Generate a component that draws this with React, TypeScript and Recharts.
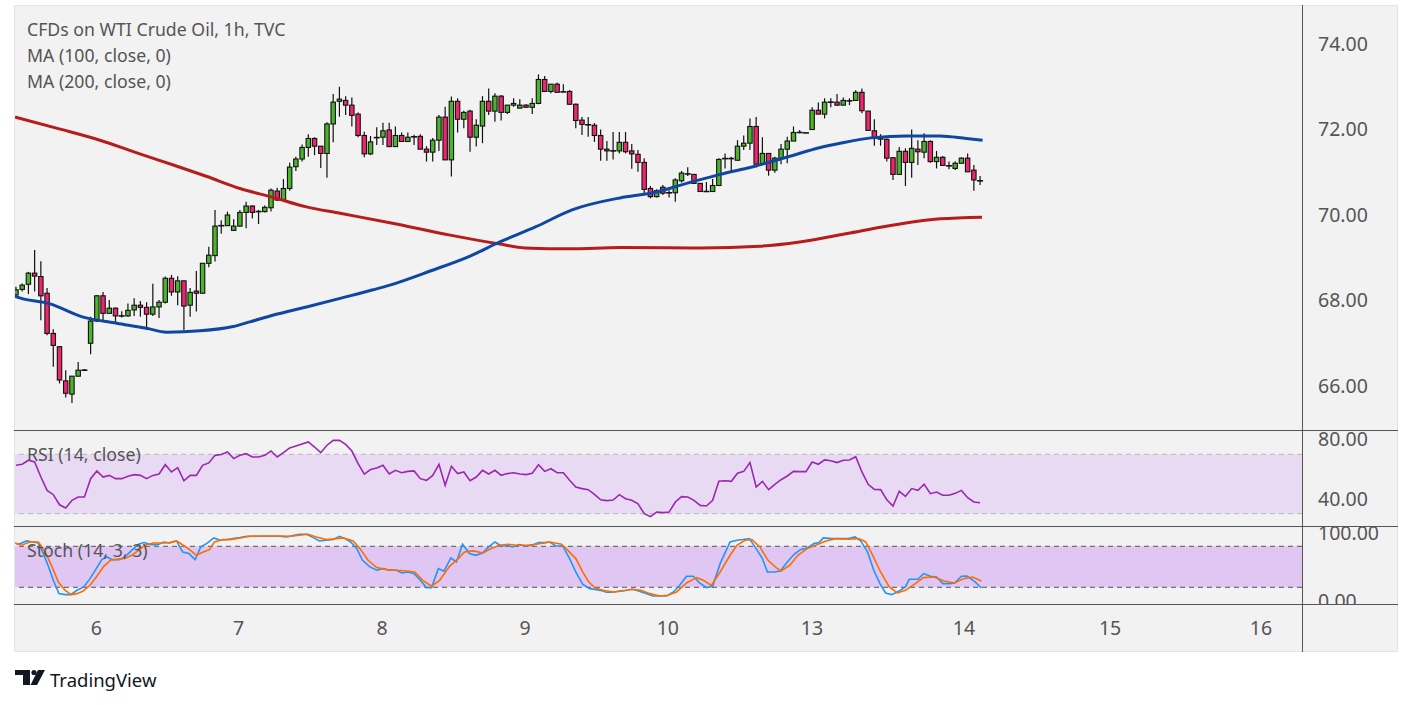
import {
  Bar,
  ComposedChart,
  Line,
  ReferenceArea,
  ReferenceLine,
  XAxis,
  YAxis,
} from "recharts";

// hourly candles, WTI CFD (index 1 = first visible bar)
const opens = [
  68.13, 68.26, 68.38, 68.64, 68.56, 68.17, 67.23, 66.92, 66.12, 65.81,
  66.23, 66.37, 67.0, 67.52, 68.11, 67.7, 67.82, 67.64, 67.64, 67.78,
  67.89, 67.84, 67.68, 67.85, 67.96, 68.52, 68.2, 68.46, 67.89, 68.22,
  68.17, 68.87, 69.05, 69.75, 69.75, 69.64, 69.74, 70.06, 70.21, 70.08,
  70.08, 70.17, 70.56, 70.35, 70.62, 71.13, 71.31, 71.58, 71.79, 71.61,
  71.44, 72.13, 72.66, 72.68, 72.57, 72.36, 71.86, 71.43, 71.81, 71.82,
  71.99, 71.6, 71.86, 71.72, 71.83, 71.84, 71.54, 71.47, 71.75, 72.29,
  71.29, 72.66, 72.24, 72.43, 71.82, 72.08, 72.66, 72.43, 72.78, 72.4,
  72.57, 72.5, 72.57, 72.52, 72.61, 73.17, 72.89, 73.06, 72.88, 72.89,
  72.59, 72.22, 72.11, 72.1, 71.86, 71.54, 71.5, 71.5, 71.7, 71.5,
  71.42, 71.23, 70.62, 70.43, 70.65, 70.52, 70.52, 70.8, 70.96, 70.95,
  70.74, 70.55, 70.55, 70.69, 71.32, 71.32, 71.28, 71.61, 71.68, 72.07,
  71.19, 71.44, 71.05, 71.33, 71.54, 71.73, 71.93, 71.92, 72.0, 72.45,
  72.36, 72.64, 72.64, 72.57, 72.67, 72.68, 72.87, 72.43, 71.97, 71.78,
  71.77, 71.34, 70.95, 71.49, 71.23, 71.54, 71.47, 71.72, 71.25, 71.35,
  71.15, 71.09, 71.21, 71.33, 71.05, 70.8,
];
const highs = [
  68.32, 68.4, 68.67, 69.18, 68.92, 68.29, 67.33, 66.92, 66.37, 66.23,
  66.56, 66.4, 67.62, 68.13, 68.2, 68.01, 67.84, 67.75, 67.93, 68.05,
  67.99, 67.96, 68.39, 68.01, 68.56, 68.6, 68.57, 68.46, 68.29, 68.69,
  68.87, 69.26, 70.12, 69.88, 70.08, 69.9, 70.12, 70.31, 70.23, 70.12,
  70.22, 70.62, 70.64, 70.84, 71.22, 71.36, 71.65, 71.89, 71.82, 71.61,
  72.17, 72.83, 73.0, 72.78, 72.75, 72.4, 71.95, 71.85, 72.05, 72.16,
  72.16, 72.07, 71.93, 71.93, 71.88, 71.89, 71.61, 71.8, 72.34, 72.53,
  72.77, 72.73, 72.44, 72.46, 72.24, 72.78, 72.96, 72.85, 72.81, 72.57,
  72.73, 72.71, 72.59, 72.73, 73.29, 73.25, 73.06, 73.1, 73.06, 72.92,
  72.61, 72.29, 72.29, 72.15, 72.0, 71.73, 71.94, 71.94, 71.94, 71.66,
  71.52, 71.33, 70.68, 70.6, 70.7, 70.58, 70.86, 71.03, 71.12, 70.95,
  70.74, 70.77, 70.84, 71.33, 71.44, 71.36, 71.75, 71.86, 72.26, 72.29,
  71.82, 71.44, 71.36, 71.66, 71.83, 72.07, 71.99, 71.92, 72.52, 72.63,
  72.73, 72.73, 72.83, 72.75, 72.73, 72.92, 72.96, 72.44, 72.24, 71.89,
  71.79, 71.34, 71.59, 71.56, 72.0, 71.75, 71.91, 71.75, 71.5, 71.38,
  71.25, 71.26, 71.35, 71.44, 71.17, 70.91,
];
const lows = [
  68.08, 68.21, 68.15, 68.21, 67.54, 67.19, 66.45, 66.06, 65.73, 65.6,
  66.22, 66.35, 66.74, 67.5, 67.54, 67.7, 67.5, 67.6, 67.62, 67.64,
  67.62, 67.31, 67.64, 67.59, 67.93, 68.11, 67.89, 67.31, 67.62, 67.74,
  68.17, 68.78, 68.91, 69.56, 69.75, 69.64, 69.73, 69.69, 69.92, 69.79,
  70.06, 70.08, 70.33, 70.33, 70.57, 71.03, 71.25, 71.36, 71.4, 71.1,
  70.87, 71.7, 72.3, 72.34, 72.07, 71.82, 71.35, 71.4, 71.64, 71.64,
  71.6, 71.6, 71.72, 71.72, 71.64, 71.54, 71.25, 71.25, 71.5, 71.29,
  70.9, 71.93, 72.03, 71.48, 71.6, 71.68, 72.34, 72.18, 72.21, 72.36,
  72.53, 72.5, 72.52, 72.36, 72.59, 72.88, 72.85, 72.87, 72.87, 72.59,
  72.03, 71.87, 71.83, 71.71, 71.27, 71.27, 71.3, 71.44, 71.44, 71.08,
  71.01, 70.47, 70.39, 70.41, 70.47, 70.41, 70.31, 70.76, 70.91, 70.74,
  70.55, 70.55, 70.55, 70.69, 71.09, 70.98, 71.28, 71.52, 71.52, 71.11,
  71.19, 70.92, 70.99, 71.19, 71.21, 71.73, 71.91, 71.92, 72.0, 72.36,
  72.26, 72.52, 72.55, 72.57, 72.57, 72.68, 72.38, 71.97, 71.62, 71.62,
  71.25, 70.82, 70.95, 70.68, 70.87, 71.17, 71.33, 71.22, 71.09, 71.16,
  71.07, 71.05, 71.21, 71.01, 70.57, 70.7,
];
const closes = [
  68.25, 68.36, 68.64, 68.57, 68.11, 67.23, 66.95, 66.14, 65.83, 66.23,
  66.37, 66.37, 67.52, 68.11, 67.7, 67.82, 67.64, 67.64, 67.77, 67.89,
  67.84, 67.68, 67.85, 67.96, 68.52, 68.2, 68.46, 67.87, 68.19, 68.17,
  68.87, 69.06, 69.74, 69.75, 70.0, 69.74, 70.06, 70.21, 70.06, 70.08,
  70.18, 70.58, 70.35, 70.62, 71.12, 71.31, 71.58, 71.79, 71.61, 71.44,
  72.13, 72.64, 72.71, 72.57, 72.33, 71.86, 71.43, 71.71, 71.81, 71.97,
  71.6, 71.86, 71.72, 71.82, 71.83, 71.54, 71.47, 71.75, 72.29, 71.29,
  72.66, 72.24, 72.4, 71.82, 72.1, 72.66, 72.43, 72.78, 72.4, 72.57,
  72.61, 72.57, 72.52, 72.61, 73.17, 72.89, 73.06, 72.87, 72.88, 72.59,
  72.21, 72.12, 72.11, 71.86, 71.54, 71.5, 71.5, 71.7, 71.48, 71.43,
  71.23, 70.6, 70.43, 70.57, 70.51, 70.52, 70.82, 70.98, 70.96, 70.74,
  70.55, 70.55, 70.69, 71.3, 71.32, 71.32, 71.61, 71.68, 72.07, 71.19,
  71.44, 71.05, 71.33, 71.54, 71.73, 71.93, 71.93, 71.92, 72.45, 72.36,
  72.64, 72.64, 72.57, 72.68, 72.67, 72.87, 72.44, 71.98, 71.79, 71.78,
  71.33, 70.95, 71.49, 71.23, 71.56, 71.48, 71.72, 71.25, 71.35, 71.16,
  71.15, 71.21, 71.33, 71.01, 70.82, 70.8,
];

const rsi = [
  62.6, 63.3, 66, 64.8, 54.7, 45.7, 42.8, 36, 33.8, 39,
  41.2, 41.2, 53.6, 58.8, 54.7, 55.8, 53.6, 53.6, 55.2, 56.3,
  55.8, 53.6, 55.8, 56.7, 63, 58.1, 61, 52.2, 55.8, 55.8,
  62.6, 64.2, 69.3, 69.8, 71.6, 67.1, 69.3, 70.4, 68.2, 68.2,
  69.3, 72.2, 68.2, 71.1, 74.3, 75.6, null, 78.3, 74.9, 71.1,
  76.1, 79.4, 79.4, 76.7, 72.2, 63.7, 56.7, 59.7, 60.8, 62.6,
  56.7, 59.2, 57.6, 58.5, 58.8, 53.6, 52.5, 55.8, 63.3, 49.1,
  61.9, 57, 58.1, 52.2, 54.7, 59.2, 56.7, 59.2, 55.8, 57,
  57.6, 56.7, 56.3, 57.2, 63, 58.5, 60.3, 57.6, 57.6, 52.5,
  48, 46.9, 46.2, 43, 39.4, 38.8, 39.2, 42.8, 40.1, 39,
  36.7, 30, 28, 31.1, 30.7, 31.1, 37.9, 41.5, 41.2, 39,
  35.6, 35.2, 39, 51.8, 52.2, 51.8, 57.2, 58.5, 64.4, 48,
  51.8, 46.2, 49.8, 52.9, 55.4, 58.5, 58.3, 58.3, 64.8, 63.3,
  66.2, 65.7, 64.4, 66, 66.2, 68.4, 58.1, 49.8, 46.4, 46.2,
  39.4, 35.2, 45.1, 41.7, 46.9, 45.7, 49.8, 43.5, 44.6, 42.4,
  42.4, 43.7, 45.7, 40.8, 37.9, 37.4,
];

// moving averages, read at [bar index, price]
const ma100: [number, number][] = [
  [0.84, 68.1], [1, 68.09], [6.5, 67.92], [11.8, 67.61], [17.2, 67.47],
  [22, 67.35], [25.2, 67.26], [30.6, 67.29], [35.9, 67.39], [38.6, 67.5],
  [42.4, 67.66], [47.7, 67.85], [53.1, 68.05], [58.4, 68.25], [61.1, 68.36],
  [67.6, 68.69], [74, 69.04], [78.8, 69.37], [84.5, 69.72], [90.4, 70.12],
  [98.1, 70.4], [103.4, 70.52], [108.8, 70.74], [114.2, 70.95], [119.5, 71.13],
  [124.9, 71.35], [130.3, 71.58], [133.5, 71.68], [138.8, 71.81], [144.2, 71.85],
  [149.6, 71.85], [153.8, 71.79], [156.4, 71.75],
];
const ma200: [number, number][] = [
  [0.84, 72.29], [8.1, 72.01], [14.5, 71.75], [20.9, 71.43], [26.3, 71.17],
  [31.7, 70.9], [37, 70.62], [42.4, 70.41], [47.7, 70.19], [53.1, 70.04],
  [61.1, 69.82], [70.8, 69.53], [78.8, 69.32], [82.8, 69.23], [90.1, 69.21],
  [98.1, 69.24], [111, 69.23], [120.6, 69.27], [127, 69.37], [135.1, 69.58],
  [143.1, 69.79], [149.6, 69.91], [156.3, 69.95],
];

// stochastic %K and %D, read at [bar index, value]
const stochK: [number, number][] = [
  [1.1, 82.4], [1.9, 84.9], [2.7, 87.8], [3.7, 86.3], [4.6, 84.9], [5.4, 69.3],
  [6.2, 50.7], [7, 30.2], [7.9, 10.7], [8.9, 9.3], [9.8, 9.3], [10.8, 15.6],
  [11.9, 20.5], [12.9, 32.7], [13.9, 47.3], [14.8, 60.5], [15.6, 64.4],
  [16.5, 60.5], [17.6, 60.5], [18.5, 64.4], [19.6, 74.1], [20.7, 82.9],
  [21.6, 85.4], [22.7, 82.4], [23.8, 82.4], [24.8, 86.3], [25.7, 84.9],
  [26.8, 87.8], [27.8, 71.7], [28.8, 69.3], [29.8, 60.5], [30.7, 79],
  [31.8, 84.9], [32.8, 92.2], [33.8, 88.8], [34.9, 89.8], [35.9, 91.2],
  [37, 92.7], [38.1, 94.6], [39.1, 94.6], [40.2, 94.6], [41.3, 94.6],
  [42.3, 94.6], [43.4, 94.6], [44.5, 93.7], [45.5, 95.6], [46.6, 97.6],
  [47.7, 97.6], [48.8, 92.7], [49.8, 87.8], [50.9, 88.8], [52, 89.8],
  [53, 94.6], [53.9, 91.2], [54.8, 86.3], [55.8, 76.6], [56.7, 59.5],
  [57.9, 49.8], [59, 44.9], [60, 47.3], [61.1, 44.9], [62.2, 44.9], [63, 41],
  [64.1, 42.4], [65, 40], [66, 30.2], [67, 19.5], [67.8, 19.5], [68.9, 47.3],
  [69.8, 43.4], [70.9, 62.9], [71.8, 57.1], [72.8, 82.9], [73.9, 69.3],
  [74.9, 66.8], [76, 70.2], [77, 79], [78, 86.3], [79.1, 80], [79.8, 82.4],
  [80.8, 79], [81.9, 82.4], [83, 80.5], [84, 81.5], [85, 85.4], [86, 85.4],
  [86.8, 86.3], [87.8, 80.5], [88.9, 80.5], [90, 62], [91, 42.4], [92.1, 24.4],
  [93.2, 18], [94.3, 16.6], [95.4, 14.6], [95.9, 12.7], [97, 12.7], [98, 14.6],
  [99.1, 15.6], [100.2, 17.1], [101.2, 14.1], [102.4, 10.7], [103.4, 7.3],
  [104.5, 7.3], [105.6, 7.3], [106.7, 13.2], [107.7, 22.9], [108.8, 36.1],
  [109.9, 36.1], [110.9, 26.3], [112, 19.5], [113, 21.5], [114.2, 54.6],
  [115.8, 86.3], [116.9, 88.8], [117.9, 89.8], [118.9, 91.2], [120, 76.6],
  [121, 62], [121.8, 42.4], [122.9, 42.4], [123.9, 43.9], [125, 57.1],
  [126.1, 68.3], [127.1, 75.1], [128.2, 77.6], [129.3, 83.9], [130.1, 85.4],
  [130.8, 92.2], [132.2, 91.2], [133.2, 91.2], [134.8, 91.2], [135.9, 93.7],
  [136.8, 87.8], [137.9, 71.7], [138.9, 44.9], [139.9, 25.4], [140.8, 11.7],
  [141.8, 9.3], [142.9, 14.1], [144, 20.5], [144.6, 31.7], [146, 31.7],
  [146.9, 40], [148, 36.1], [149, 35.1], [150, 25.4], [151.1, 25.4],
  [151.9, 26.3], [153, 36.1], [153.9, 36.6], [155.2, 27.8], [156.2, 19],
];
const stochD: [number, number][] = [
  [0.85, 84.9], [1.9, 81.5], [3.2, 86.3], [4.6, 86.3], [5.7, 71.7], [6.8, 49.8],
  [7.8, 27.8], [8.9, 15.6], [9.9, 9.3], [10.8, 10.7], [11.8, 14.6], [12.9, 22.9],
  [14, 36.1], [15.1, 50.7], [16.2, 59.5], [17.2, 61], [18.5, 62], [19.6, 66.8],
  [20.7, 74.1], [21.7, 81.5], [23.1, 84.9], [24.7, 84.9], [25.7, 85.4],
  [26.8, 87.8], [27.9, 81.5], [28.9, 75.1], [30, 66.8], [31.1, 71.7],
  [32.1, 75.1], [32.9, 86.3], [34.3, 89.8], [35.4, 89.8], [37, 92.2],
  [38.6, 94.6], [40.7, 95.1], [42.9, 95.1], [45, 94.6], [46.6, 96.1],
  [47.9, 97.6], [49.3, 93.7], [50.9, 89.8], [52.5, 91.2], [53.6, 92.2],
  [55.2, 87.8], [56.3, 76.6], [57.6, 59.5], [59, 48.8], [60.6, 45.9],
  [62.2, 44.9], [63.8, 43.9], [65.1, 42.4], [66.4, 30.2], [67.8, 21.5],
  [69.1, 30.2], [70.7, 50.7], [72.1, 62], [73.1, 71.7], [74.5, 73.2],
  [76.1, 70.2], [77.4, 76.6], [78.8, 81.5], [80.1, 82.9], [81.5, 81.5],
  [83.1, 81.5], [84.7, 82.9], [86.8, 86.3], [88.7, 82.9], [89.8, 73.2],
  [91, 62], [92.1, 42.4], [93, 28.8], [94.1, 19], [95.4, 15.6], [97, 13.2],
  [98.6, 14.6], [99.9, 17.1], [101.5, 15.6], [102.9, 10.7], [104.5, 7.3],
  [105.8, 8.3], [107.2, 13.2], [108.8, 26.3], [110.4, 34.1], [111.5, 30.2],
  [112.8, 22.9], [114.2, 42.4], [115.8, 66.8], [116.9, 81.5], [118.2, 88.8],
  [119.3, 89.8], [120.6, 79], [121.9, 59.5], [123.2, 48.8], [124, 43.9],
  [125.4, 52.2], [126.7, 66.8], [128.2, 76.6], [129.6, 81.5], [131.2, 87.8],
  [132.8, 91.2], [134.9, 90.2], [136.5, 91.2], [137.6, 86.3], [138.6, 69.3],
  [140, 42.4], [141.4, 20.5], [142.7, 11.7], [144, 15.6], [145.4, 24.4],
  [146.9, 34.1], [148.6, 35.1], [150.2, 29.3], [151.9, 26.3], [153.4, 32.7],
  [154.8, 35.1], [156.2, 29.3],
];

// day labels on the time axis, placed at bar index
const dayTicks = [13.9, 36.8, 59.85, 82.85, 105.8, 128.97, 153.4, 176.9, 201.15];
const dayLabels = ["6", "7", "8", "9", "10", "13", "14", "15", "16"];
const priceTicks = [66, 68, 70, 72, 74];
const rsiTicks = [40, 80];
const stochTicks = [0, 100];

const GREEN = "#4ab42b";
const RED = "#f0266d";
const FONT = "'Noto Sans', sans-serif";
const AXIS_TEXT = "#555";
const X_DOMAIN: [number, number] = [0.839, 207.75];
const CHART_W = 1383;

const candles = opens.map((open, k) => ({
  i: k + 1,
  open,
  high: highs[k],
  low: lows[k],
  close: closes[k],
  rsi: rsi[k],
}));
const toPts = (arr: [number, number][]) => arr.map(([i, v]) => ({ i, v }));
const ma100Data = toPts(ma100);
const ma200Data = toPts(ma200);
const kData = toPts(stochK);
const dData = toPts(stochD);

function CandleShape(props: any) {
  const { x, y, width, height, payload } = props;
  if (!payload || x == null) return null;
  const { open, close, high, low } = payload;
  const cx = x + width / 2;
  const top = Math.min(y, y + height);
  const span = Math.abs(height);
  const ppu = high > low ? span / (high - low) : 0;
  const yO = top + (high - open) * ppu;
  const yC = top + (high - close) * ppu;
  const bodyTop = Math.min(yO, yC);
  const bodyH = Math.abs(yO - yC);
  const fill = close >= open ? GREEN : RED;
  return (
    <g>
      <line x1={cx} x2={cx} y1={top} y2={top + span} stroke="#111" strokeWidth={1.2} />
      {bodyH < 1.5 ? (
        <line x1={cx - 3} x2={cx + 3} y1={bodyTop} y2={bodyTop} stroke="#111" strokeWidth={1.6} />
      ) : (
        <rect x={cx - 2.2} y={bodyTop} width={4.4} height={bodyH} fill={fill} stroke="#111" strokeWidth={1.1} />
      )}
    </g>
  );
}

const yTick = { fill: AXIS_TEXT, fontSize: 19.5, fontFamily: FONT };
const fmt2 = (v: number) => v.toFixed(2);

const label: React.CSSProperties = {
  position: "absolute",
  left: 27,
  fontFamily: FONT,
  fontSize: 17.7,
  lineHeight: "20px",
  color: "#555",
  whiteSpace: "nowrap",
};

export default function App() {
  return (
    <div
      style={{
        position: "fixed",
        left: 0,
        top: 0,
        width: 1413,
        height: 705,
        background: "#fff",
        overflow: "hidden",
      }}
    >
      {/* chart frame */}
      <div
        style={{
          position: "absolute",
          left: 14,
          top: 5,
          width: 1384,
          height: 647,
          background: "#f2f2f2",
          border: "1px solid #e4e4e4",
          boxSizing: "border-box",
        }}
      />

      {/* price panel */}
      <div style={{ position: "absolute", left: 15, top: 6 }}>
        <ComposedChart width={CHART_W} height={424} data={candles} margin={{ top: 0, right: 0, bottom: 0, left: 0 }}>
          <XAxis dataKey="i" type="number" domain={X_DOMAIN} allowDataOverflow hide />
          <YAxis
            orientation="right"
            width={96}
            type="number"
            domain={[64.971, 74.889]}
            allowDataOverflow
            ticks={priceTicks}
            tickFormatter={fmt2}
            tick={yTick}
            interval={0}
            axisLine={false}
            tickLine={false}
            tickSize={0}
            tickMargin={16}
          />
          <Line data={ma200Data} dataKey="v" type="monotone" stroke="#b71c1c" strokeWidth={3} dot={false} isAnimationActive={false} />
          <Line data={ma100Data} dataKey="v" type="monotone" stroke="#0d47a1" strokeWidth={3} dot={false} isAnimationActive={false} />
          <Bar dataKey={(d: any) => [d.low, d.high]} barSize={5} shape={CandleShape} isAnimationActive={false} />
        </ComposedChart>
      </div>

      {/* RSI panel */}
      <div style={{ position: "absolute", left: 15, top: 430 }}>
        <ComposedChart width={CHART_W} height={96} data={candles} margin={{ top: 0, right: 0, bottom: 0, left: 0 }}>
          <XAxis dataKey="i" type="number" domain={X_DOMAIN} allowDataOverflow hide />
          <YAxis
            orientation="right"
            width={96}
            type="number"
            domain={[21.72, 86.36]}
            allowDataOverflow
            ticks={rsiTicks}
            tickFormatter={fmt2}
            tick={yTick}
            interval={0}
            axisLine={false}
            tickLine={false}
            tickSize={0}
            tickMargin={16}
          />
          <ReferenceArea y1={30} y2={70} fill="#e8daf3" fillOpacity={1} stroke="none" />
          <ReferenceLine y={70} stroke="#b8b8b8" strokeDasharray="5 4" />
          <ReferenceLine y={30} stroke="#b8b8b8" strokeDasharray="5 4" />
          <Line dataKey="rsi" type="linear" stroke="#9c27b0" strokeWidth={1.6} dot={false} connectNulls isAnimationActive={false} />
        </ComposedChart>
      </div>

      {/* Stochastic panel */}
      <div style={{ position: "absolute", left: 15, top: 526 }}>
        <ComposedChart width={CHART_W} height={78} data={candles} margin={{ top: 0, right: 0, bottom: 0, left: 0 }}>
          <XAxis dataKey="i" type="number" domain={X_DOMAIN} allowDataOverflow hide />
          <YAxis
            orientation="right"
            width={96}
            type="number"
            domain={[-4.44, 109.66]}
            allowDataOverflow
            ticks={stochTicks}
            tickFormatter={fmt2}
            tick={yTick}
            interval={0}
            axisLine={false}
            tickLine={false}
            tickSize={0}
            tickMargin={16}
          />
          <ReferenceArea y1={20} y2={80} fill="#e0c6f3" fillOpacity={1} stroke="none" />
          <ReferenceLine y={80} stroke="#555" strokeDasharray="5 4" />
          <ReferenceLine y={20} stroke="#555" strokeDasharray="5 4" />
          <Line data={kData} dataKey="v" type="linear" stroke="#2196f3" strokeWidth={1.6} dot={false} isAnimationActive={false} />
          <Line data={dData} dataKey="v" type="linear" stroke="#ff6d00" strokeWidth={1.6} dot={false} isAnimationActive={false} />
        </ComposedChart>
      </div>

      {/* time axis */}
      <div style={{ position: "absolute", left: 15, top: 605 }}>
        <ComposedChart width={CHART_W} height={46} data={candles} margin={{ top: 0, right: 96, bottom: 0, left: 0 }}>
          <XAxis
            dataKey="i"
            type="number"
            domain={X_DOMAIN}
            allowDataOverflow
            ticks={dayTicks}
            tickFormatter={(v: number) => dayLabels[dayTicks.indexOf(v)] ?? ""}
            tick={{ fill: AXIS_TEXT, fontSize: 19.5, fontFamily: FONT }}
            axisLine={false}
            tickLine={false}
            tickSize={0}
            tickMargin={9}
            height={39}
            interval={0}
          />
          <YAxis hide domain={[60, 80]} />
          <Line dataKey="close" stroke="none" dot={false} isAnimationActive={false} />
        </ComposedChart>
      </div>

      {/* separators */}
      {[430, 526, 604].map((t) => (
        <div key={t} style={{ position: "absolute", left: 14, top: t, width: 1384, height: 1, background: "#555" }} />
      ))}
      <div style={{ position: "absolute", left: 1302, top: 5, width: 1, height: 647, background: "#555" }} />

      {/* legends */}
      <div style={{ ...label, top: 19 }}>CFDs on WTI Crude Oil, 1h, TVC</div>
      <div style={{ ...label, top: 45 }}>MA (100, close, 0)</div>
      <div style={{ ...label, top: 71 }}>MA (200, close, 0)</div>
      <div style={{ ...label, top: 444 }}>RSI (14, close)</div>
      <div style={{ ...label, top: 540 }}>Stoch (14, 3, 3)</div>

      {/* TradingView mark */}
      <svg style={{ position: "absolute", left: 15, top: 669 }} width={32} height={17}>
        <rect x={0} y={1} width={15} height={5} fill="#131722" />
        <rect x={8} y={1} width={7} height={15} fill="#131722" />
        <circle cx={19} cy={3.5} r={2.6} fill="#131722" />
        <polygon points="23,1 30,1 22,16 15.5,16" fill="#131722" />
      </svg>
      <div
        style={{
          position: "absolute",
          left: 50,
          top: 668,
          fontFamily: FONT,
          fontSize: 18.5,
          lineHeight: "24px",
          color: "#131722",
        }}
      >
        TradingView
      </div>
    </div>
  );
}
